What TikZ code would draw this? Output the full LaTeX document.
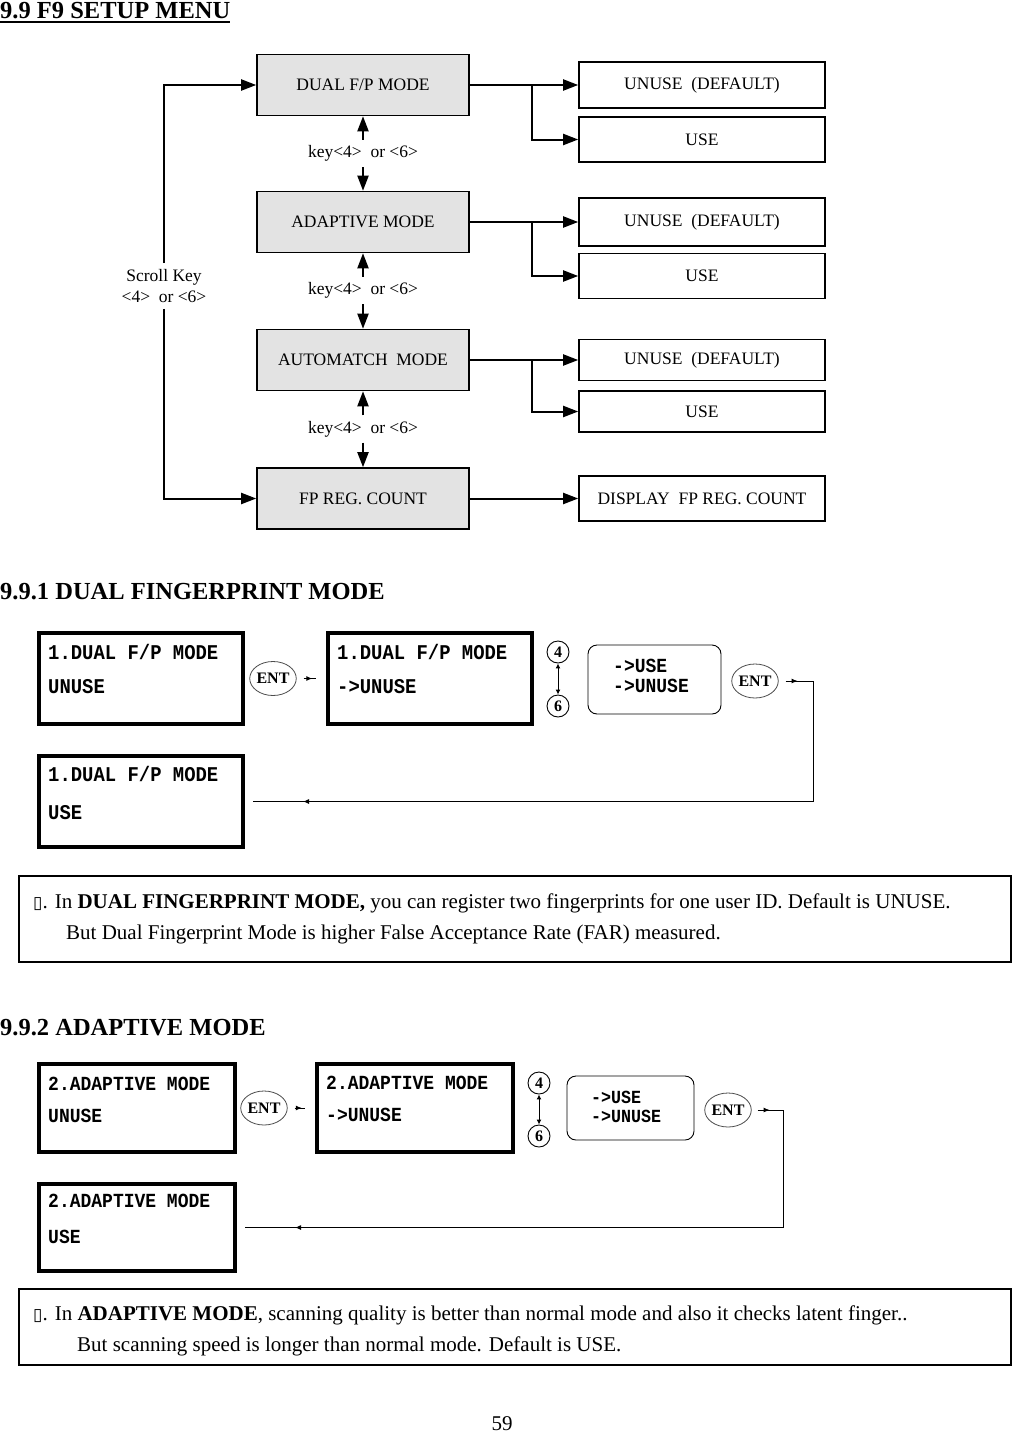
\documentclass[tikz,border=0pt]{standalone}
\usepackage{fontspec}
\setmainfont{Liberation Serif}
\newfontfamily\lcdfont[FakeStretch=0.9]{Liberation Mono}
\newfontfamily\symfont{DejaVu Sans}
\usetikzlibrary{arrows.meta,positioning,shapes.geometric,decorations.markings}

\newcommand{\px}[1]{\fontsize{#1}{#1}\selectfont}

\tikzset{
  menubox/.style={draw, line width=1.6pt, fill=black!11, minimum width=212pt, minimum height=61pt, inner sep=0pt, font=\px{17.5}},
  optbox/.style={draw, line width=1.6pt, minimum width=246pt, inner sep=0pt, font=\px{17.5}},
  keylbl/.style={minimum height=27pt, inner sep=0pt, font=\px{17.5}},
  flowline/.style={line width=2pt},
  lcdbox/.style={draw, line width=4pt, minimum width=204pt, minimum height=91pt, inner sep=0pt},
  lcdtext/.style={anchor=base west, inner sep=0pt, font=\lcdfont\bfseries\px{21}},
  lcdsmall/.style={lcdtext, font=\lcdfont\bfseries\px{20}},
  entkey/.style={draw=black!70, ellipse, line width=0.8pt, minimum width=36pt, minimum height=34pt, inner sep=0pt, font=\bfseries\px{16}},
  numkey/.style={draw, circle, line width=0.9pt, minimum size=22pt, inner sep=0pt, font=\bfseries\px{16}},
  choicebox/.style={draw, line width=0.9pt, rounded corners=9pt, inner sep=0pt},
  notebox/.style={draw, line width=2pt, minimum width=992pt, inner sep=0pt},
  notetext/.style={anchor=base west, inner sep=0pt, font=\px{21}},
  heading/.style={anchor=base west, inner sep=0pt, font=\bfseries\px{24.5}},
  midtip/.style={postaction=decorate, decoration={markings,
      mark=at position #1 with {\arrow{Latex[length=6pt,width=5pt]}}}},
  enttip/.style 2 args={postaction=decorate, decoration={markings,
      mark=at position #1 with {\arrow{Latex[length=6pt,width=5pt]}},
      mark=at position #2 with {\arrow{Latex[length=6pt,width=5pt]}}}},
}

\begin{document}
\begin{tikzpicture}[x=1pt, y=-1pt, >={Triangle[length=15pt,width=11pt]}]
\useasboundingbox (0,0) rectangle (1014,1432);

% Title
\node[heading] (title) at (0,18) {9.9 F9 SETUP MENU};
\draw[line width=2pt] ([yshift=-4pt]title.base west) -- ([yshift=-4pt]title.base east);

% Menu boxes
\node[menubox] (dual) at (363,85) {DUAL F/P MODE};
\node[menubox] (adapt) at (363,222) {ADAPTIVE MODE};
\node[menubox] (automatch) at (363,360) {AUTOMATCH\ \ MODE};
\node[menubox] (fpreg) at (363,498.5) {FP REG. COUNT};

% Option boxes
\node[optbox, minimum height=46pt] (dualun) at (702,85) {UNUSE\ \ (DEFAULT)};
\node[optbox, minimum height=45pt] (dualuse) at (702,139.5) {USE};
\node[optbox, minimum height=48pt] (adaptun) at (702,222) {UNUSE\ \ (DEFAULT)};
\node[optbox, minimum height=45pt] (adaptuse) at (702,276) {USE};
\node[optbox, minimum height=41pt] (autoun) at (702,360) {UNUSE\ \ (DEFAULT)};
\node[optbox, minimum height=41pt] (autouse) at (702,411.5) {USE};
\node[optbox, minimum height=45pt] (fpdisp) at (702,498.5) {DISPLAY\ \ FP REG. COUNT};

% Key labels between menus
\node[keylbl] (key1) at (363,153.5) {key<4>\ \ or <6>};
\node[keylbl] (key2) at (363,290.5) {key<4>\ \ or <6>};
\node[keylbl] (key3) at (363,429) {key<4>\ \ or <6>};
\draw[->, flowline] (key1) -- (dual);
\draw[->, flowline] (key1) -- (adapt);
\draw[->, flowline] (key2) -- (adapt);
\draw[->, flowline] (key2) -- (automatch);
\draw[->, flowline] (key3) -- (automatch);
\draw[->, flowline] (key3) -- (fpreg);

% Scroll key loop
\node[keylbl, align=center, minimum height=0pt, inner ysep=6pt, font=\fontsize{17.5}{21}\selectfont] (scroll) at (164,286) {Scroll Key\\<4>\ \ or <6>};
\draw[->, flowline] (scroll) |- (dual);
\draw[->, flowline] (scroll) |- (fpreg);

% Branches to options
\coordinate (dualfork) at (532,85);
\coordinate (adaptfork) at (532,222);
\coordinate (autofork) at (532,360);
\draw[->, flowline] (dual) -- (dualun);
\draw[->, flowline] (dualfork) |- (dualuse);
\draw[->, flowline] (adapt) -- (adaptun);
\draw[->, flowline] (adaptfork) |- (adaptuse);
\draw[->, flowline] (automatch) -- (autoun);
\draw[->, flowline] (autofork) |- (autouse);
\draw[->, flowline] (fpreg) -- (fpdisp);

% 9.9.1
\node[heading] (dualhead) at (0,599) {9.9.1 DUAL FINGERPRINT MODE};

\node[lcdbox] (dualscr1) at (141,678.5) {};
\node[lcdtext] (dualscr1a) at (48,659) {1.DUAL F/P MODE};
\node[lcdtext] (dualscr1b) at (48,693) {UNUSE};
\node[lcdbox] (dualscr2) at (430,678.5) {};
\node[lcdtext] (dualscr2a) at (337,659) {1.DUAL F/P MODE};
\node[lcdtext] (dualscr2b) at (337,693) {->UNUSE};
\node[lcdbox] (dualscr3) at (141,801.5) {};
\node[lcdtext] (dualscr3a) at (48,781) {1.DUAL F/P MODE};
\node[lcdtext] (dualscr3b) at (48,819) {USE};

\node[entkey] (dualent1) at (273,678.5) {ENT};
\draw[midtip=0.7, line width=1pt] ([xshift=7pt]dualent1.east) -- ([xshift=-10pt]dualscr2.west);

\node[numkey] (dualkey4) at (558,652) {4};
\node[numkey] (dualkey6) at (558,706) {6};
\draw[{Latex[length=5pt,width=5pt]}-{Latex[length=5pt,width=5pt]}, line width=1pt] (dualkey4) -- (dualkey6);

\node[choicebox, minimum width=133pt, minimum height=69pt] (dualpick) at (654.5,679.5) {};
\node[lcdsmall] (dualpicka) at (613,672) {->USE};
\node[lcdsmall] (dualpickb) at (613,692) {->UNUSE};

\node[entkey] (dualent2) at (755,681) {ENT};
\draw[enttip={12pt}{-50pt}, line width=1pt] ([xshift=7pt]dualent2.east) -- ++(28,0) |- ([xshift=8pt]dualscr3.east);

% Note 1
\node[notebox, minimum height=86pt] (dualnote) at (515,919) {};
\node[notetext] (dualnotea) at (33,908) {{\symfont\px{17}▯}. In \textbf{DUAL FINGERPRINT MODE,} you can register two fingerprints for one user ID. Default is UNUSE.};
\node[notetext] (dualnoteb) at (66,939) {But Dual Fingerprint Mode is higher False Acceptance Rate (FAR) measured.};

% 9.9.2
\node[heading] (adapthead) at (0,1035) {9.9.2 ADAPTIVE MODE};

\node[lcdbox, minimum width=196pt, minimum height=88pt] (adaptscr1) at (137,1108) {};
\node[lcdsmall] (adaptscr1a) at (48,1090) {2.ADAPTIVE MODE};
\node[lcdsmall] (adaptscr1b) at (48,1122) {UNUSE};
\node[lcdbox, minimum width=196pt, minimum height=88pt] (adaptscr2) at (415,1108) {};
\node[lcdsmall] (adaptscr2a) at (326,1089) {2.ADAPTIVE MODE};
\node[lcdsmall] (adaptscr2b) at (326,1121) {->UNUSE};
\node[lcdbox, minimum width=196pt, minimum height=87pt] (adaptscr3) at (137,1227.5) {};
\node[lcdsmall] (adaptscr3a) at (48,1207) {2.ADAPTIVE MODE};
\node[lcdsmall] (adaptscr3b) at (48,1243) {USE};

\node[entkey] (adaptent1) at (264,1108) {ENT};
\draw[midtip=0.7, line width=1pt] ([xshift=7pt]adaptent1.east) -- ([xshift=-10pt]adaptscr2.west);

\node[numkey] (adaptkey4) at (539,1083) {4};
\node[numkey] (adaptkey6) at (539,1136) {6};
\draw[{Latex[length=5pt,width=5pt]}-{Latex[length=5pt,width=5pt]}, line width=1pt] (adaptkey4) -- (adaptkey6);

\node[choicebox, minimum width=127pt, minimum height=64pt] (adaptpick) at (630.5,1108) {};
\node[lcdsmall, font=\lcdfont\bfseries\px{18.5}] (adaptpicka) at (591,1103) {->USE};
\node[lcdsmall, font=\lcdfont\bfseries\px{18.5}] (adaptpickb) at (591,1122) {->UNUSE};

\node[entkey] (adaptent2) at (728,1110) {ENT};
\draw[enttip={12pt}{-50pt}, line width=1pt] ([xshift=6pt]adaptent2.east) -- ++(26,0) |- ([xshift=8pt]adaptscr3.east);

% Note 2
\node[notebox, minimum height=76pt] (adaptnote) at (515,1327) {};
\node[notetext] (adaptnotea) at (33,1320) {{\symfont\px{17}▯}. In \textbf{ADAPTIVE MODE}, scanning quality is better than normal mode and also it checks latent finger..};
\node[notetext] (adaptnoteb) at (77,1351) {But scanning speed is longer than normal mode. Default is USE.};

% Page number
\node[notetext, anchor=base] (pagenum) at (502,1430) {59};
\end{tikzpicture}
\end{document}
